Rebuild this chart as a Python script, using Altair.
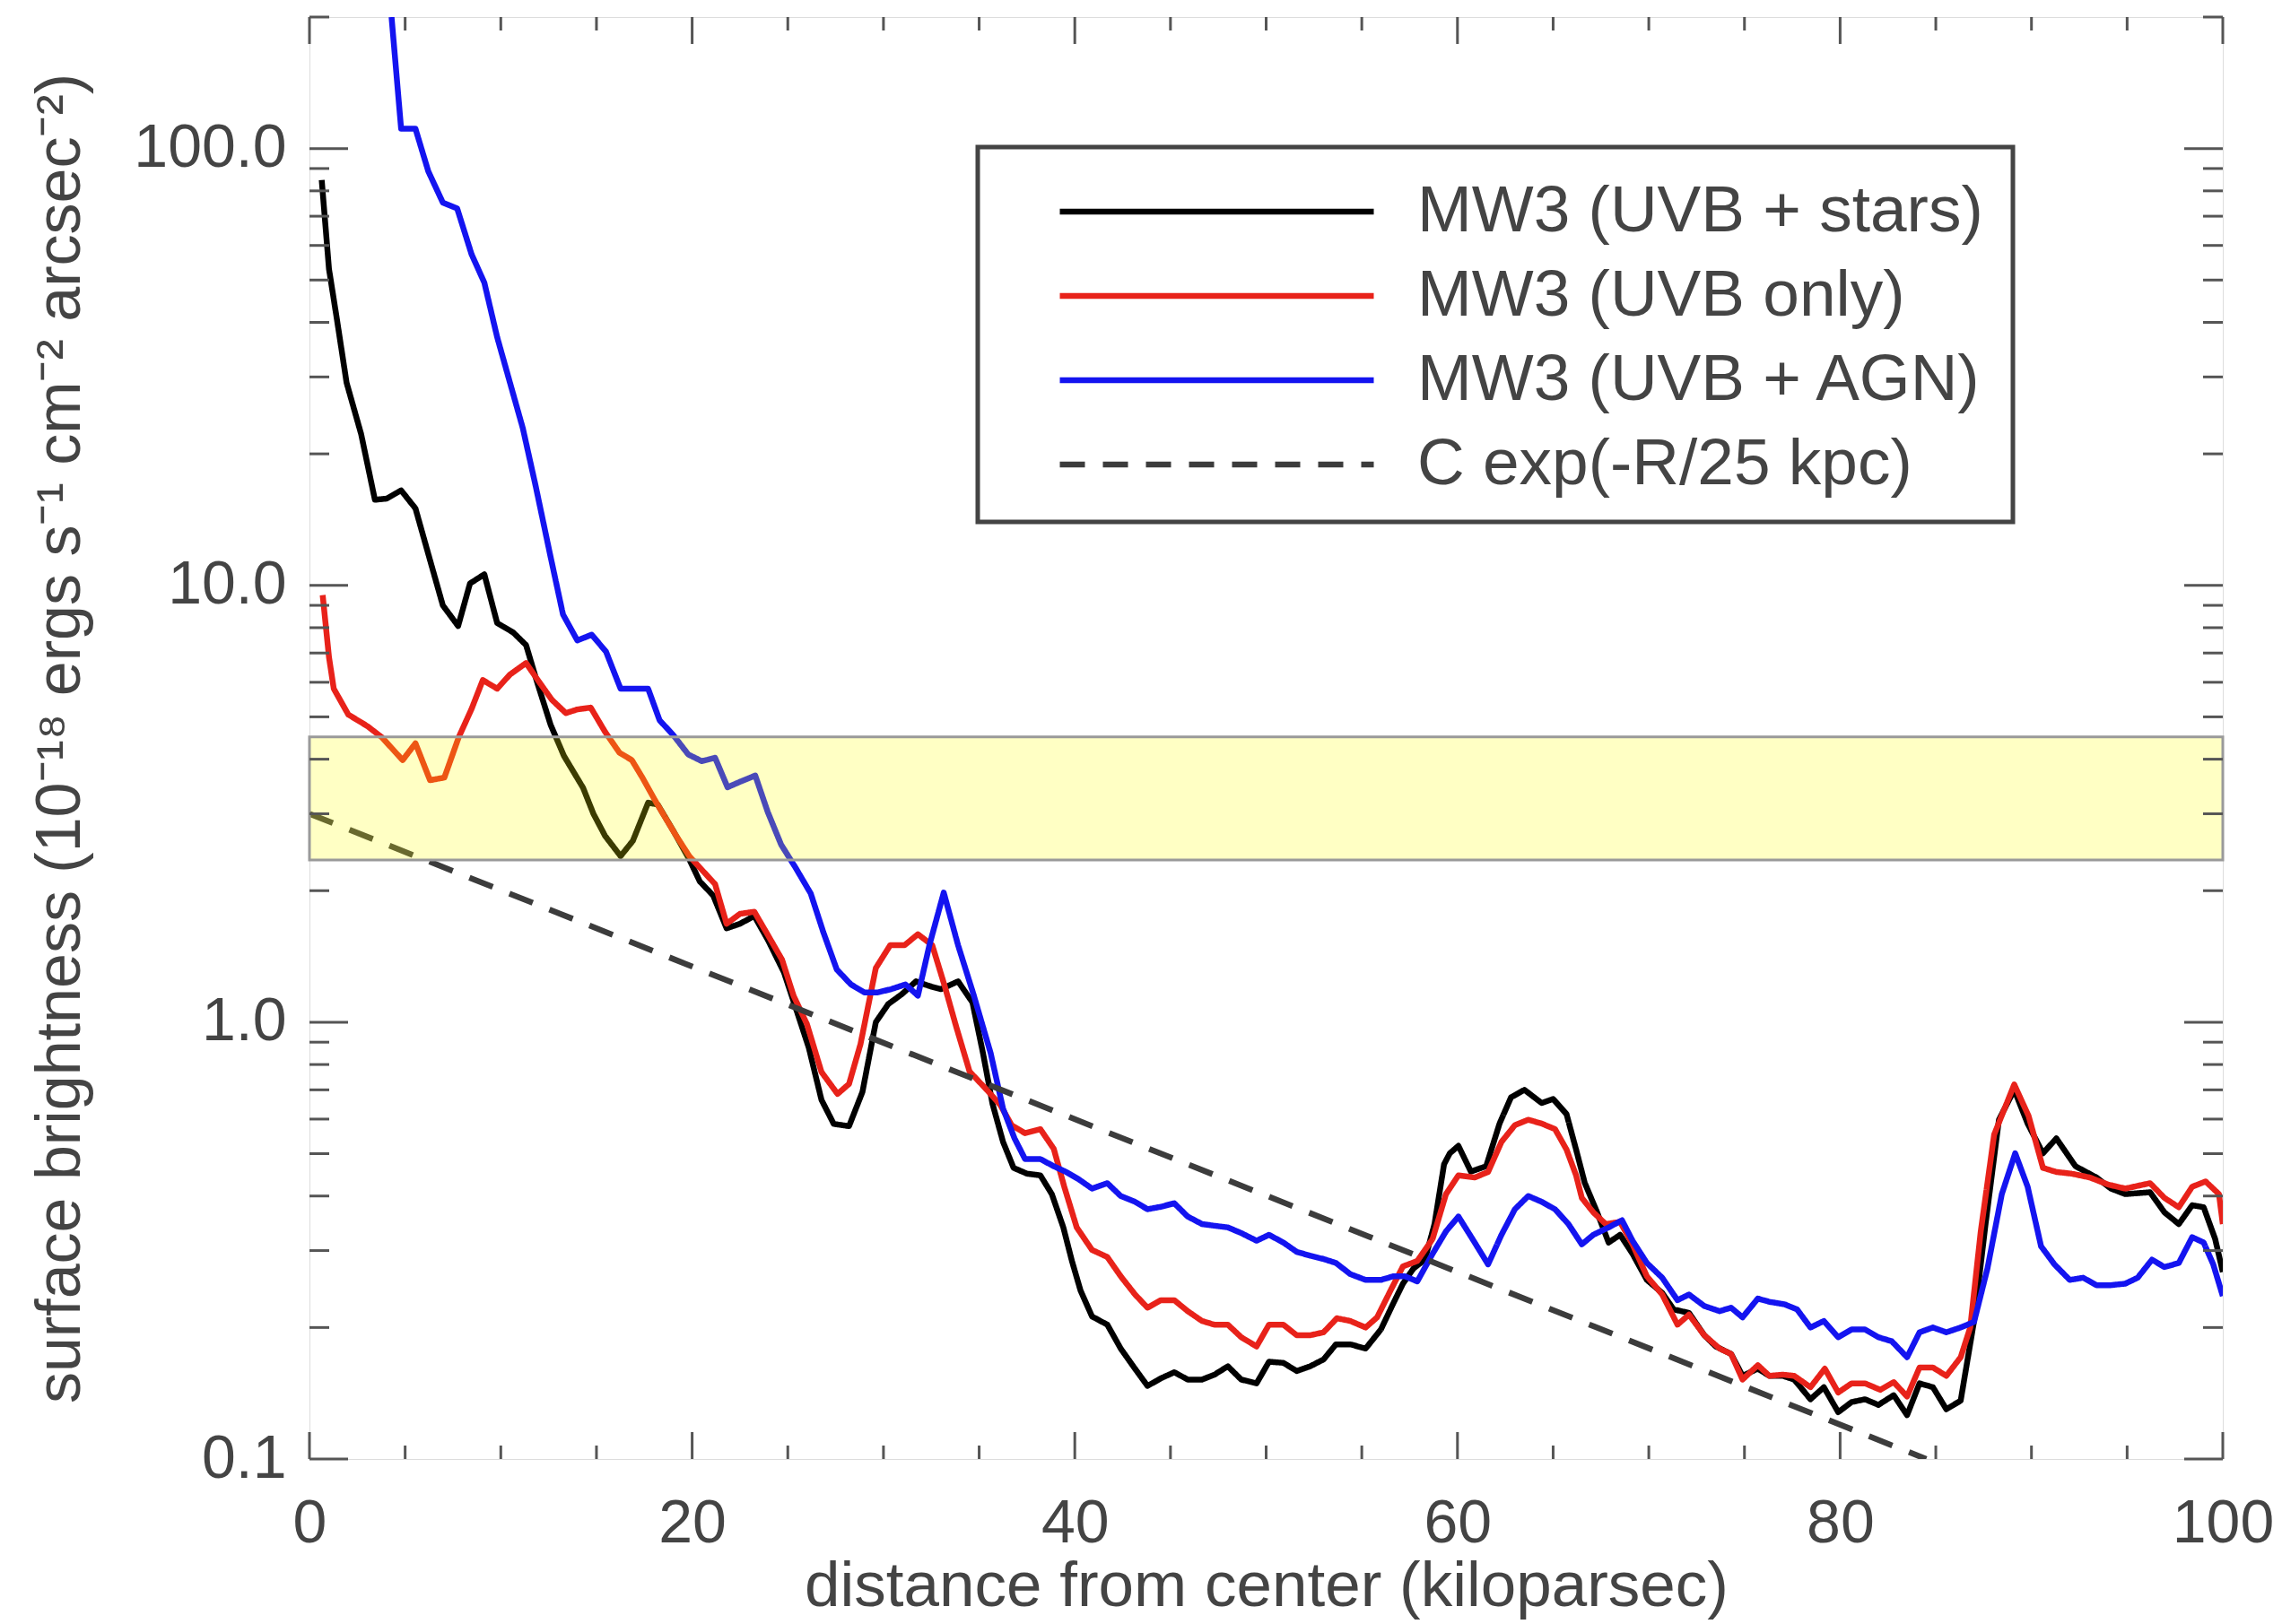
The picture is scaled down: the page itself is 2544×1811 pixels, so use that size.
import altair as alt
import pandas as pd

# ---------------- data ----------------
black_x = [0.64, 1.02, 1.44, 1.94, 2.70, 3.42, 4.04, 4.79, 5.54, 6.21,
           6.97, 7.77, 8.39, 9.14, 9.81, 10.65, 11.32, 11.9, 12.6, 13.3,
           14.3, 14.84, 15.45, 16.26, 16.9, 17.7, 18.2, 19.0, 19.85, 20.4,
           21.1, 21.8, 22.5, 23.25, 23.97, 24.8, 25.5, 26.1, 26.76, 27.4,
           28.2, 28.9, 29.6, 30.25, 30.97, 31.7, 32.4, 33.0, 33.9, 34.65,
           35.2, 35.7, 36.25, 36.8, 37.5, 38.2, 38.8, 39.4, 39.85, 40.3,
           40.9, 41.7, 42.4, 43.1, 43.8, 44.5, 45.2, 45.9, 46.65, 47.3,
           48.0, 48.7, 49.5, 50.15, 50.9, 51.6, 52.3, 53.0, 53.65, 54.4,
           55.2, 56.0, 56.6, 57.15, 57.7, 58.3, 58.8, 59.3, 59.6, 60.05,
           60.7, 61.5, 62.2, 62.8, 63.5, 64.4, 65.0, 65.7, 66.2, 66.65,
           67.3, 67.9, 68.5, 69.15, 69.9, 70.7, 71.3, 72.1, 72.9, 73.5,
           74.3, 74.9, 75.7, 76.3, 77.0, 77.6, 78.45, 79.15, 79.9, 80.6,
           81.3, 82.0, 82.8, 83.5, 84.15, 84.85, 85.55, 86.3, 87.0, 87.6,
           88.3, 89.1, 89.8, 90.6, 91.3, 92.3, 93.4, 94.15, 94.9, 96.2,
           96.95, 97.7, 98.4, 99.0, 99.6, 100.0]
black_y = [84.7, 53, 40.5, 29.1, 22.2, 15.7, 15.8, 16.5, 15.0, 11.8,
           9.0, 8.07, 10.1, 10.6, 8.2, 7.8, 7.3, 6.0, 4.8, 4.07,
           3.44, 3.0, 2.67, 2.40, 2.60, 3.18, 3.15, 2.75, 2.36, 2.1,
           1.95, 1.64, 1.68, 1.75, 1.54, 1.30, 1.05, 0.873, 0.664, 0.585,
           0.578, 0.692, 1.0, 1.10, 1.16, 1.24, 1.21, 1.19, 1.24, 1.11,
           0.85, 0.65, 0.532, 0.464, 0.45, 0.446, 0.404, 0.339, 0.284, 0.243,
           0.212, 0.203, 0.179, 0.162, 0.147, 0.153, 0.158, 0.152, 0.152, 0.156,
           0.163, 0.152, 0.149, 0.167, 0.166, 0.159, 0.163, 0.169, 0.183, 0.183,
           0.179, 0.198, 0.225, 0.252, 0.273, 0.286, 0.345, 0.473, 0.501, 0.521,
           0.455, 0.468, 0.586, 0.673, 0.70, 0.653, 0.667, 0.616, 0.511, 0.429,
           0.367, 0.313, 0.326, 0.295, 0.257, 0.24, 0.22, 0.216, 0.192, 0.181,
           0.174, 0.155, 0.161, 0.155, 0.155, 0.152, 0.137, 0.146, 0.128, 0.135,
           0.137, 0.133, 0.14, 0.126, 0.149, 0.146, 0.13, 0.136, 0.207, 0.345,
           0.598, 0.70, 0.586, 0.501, 0.542, 0.468, 0.441, 0.416, 0.404, 0.408,
           0.367, 0.345, 0.381, 0.377, 0.319, 0.268]

red_x = [0.69, 1.02, 1.27, 2.03, 3.03, 3.78, 4.87, 5.54, 6.30, 7.05,
         7.80, 8.47, 9.06, 9.81, 10.48, 11.32, 11.9, 12.67, 13.4, 14.0,
         14.7, 15.45, 16.2, 16.85, 17.4, 18.15, 19.1, 19.85, 20.6, 21.2,
         21.8, 22.5, 23.25, 23.97, 24.7, 25.3, 26.0, 26.76, 27.6, 28.2,
         28.8, 29.6, 30.35, 31.1, 31.8, 32.55, 33.2, 33.8, 34.5, 35.4,
         36.1, 36.7, 37.4, 38.2, 38.9, 39.45, 40.1, 40.9, 41.7, 42.4,
         43.15, 43.8, 44.5, 45.2, 45.9, 46.65, 47.3, 48.0, 48.7, 49.5,
         50.15, 50.9, 51.6, 52.3, 53.0, 53.7, 54.4, 55.2, 55.8, 56.5,
         57.15, 57.9, 58.7, 59.4, 60.05, 60.9, 61.6, 62.3, 63.0, 63.7,
         64.4, 65.1, 65.7, 66.2, 66.5, 67.1, 67.75, 68.5, 69.15, 69.9,
         70.7, 71.5, 72.1, 72.9, 73.7, 74.3, 74.9, 75.7, 76.3, 77.0,
         77.6, 78.45, 79.2, 79.9, 80.6, 81.3, 82.1, 82.8, 83.5, 84.15,
         84.85, 85.55, 86.3, 86.8, 87.35, 88.05, 89.1, 89.85, 90.6, 91.3,
         92.1, 93.05, 94.0, 94.9, 96.2, 96.95, 97.7, 98.4, 99.1, 99.8,
         100.0]
red_y = [9.5, 6.85, 5.8, 5.06, 4.76, 4.49, 3.98, 4.35, 3.58, 3.63,
         4.49, 5.21, 6.07, 5.8, 6.25, 6.64, 6.1, 5.47, 5.1, 5.2,
         5.25, 4.62, 4.14, 3.98, 3.63, 3.17, 2.7, 2.40, 2.21, 2.07,
         1.68, 1.77, 1.79, 1.58, 1.39, 1.15, 0.99, 0.769, 0.685, 0.722,
         0.891, 1.33, 1.50, 1.50, 1.59, 1.50, 1.21, 0.977, 0.771, 0.70,
         0.647, 0.581, 0.557, 0.569, 0.513, 0.42, 0.339, 0.301, 0.29, 0.262,
         0.238, 0.222, 0.231, 0.231, 0.218, 0.207, 0.203, 0.203, 0.19, 0.181,
         0.203, 0.203, 0.192, 0.192, 0.195, 0.21, 0.207, 0.20, 0.211, 0.243,
         0.276, 0.284, 0.319, 0.404, 0.446, 0.441, 0.454, 0.532, 0.581, 0.598,
         0.586, 0.569, 0.511, 0.446, 0.396, 0.367, 0.345, 0.349, 0.31, 0.262,
         0.238, 0.203, 0.214, 0.192, 0.179, 0.174, 0.152, 0.164, 0.155, 0.156,
         0.155, 0.146, 0.161, 0.142, 0.149, 0.149, 0.144, 0.15, 0.139, 0.162,
         0.162, 0.155, 0.171, 0.20, 0.332, 0.553, 0.72, 0.61, 0.464, 0.454,
         0.45, 0.441, 0.425, 0.416, 0.428, 0.396, 0.377, 0.42, 0.432, 0.404,
         0.345]

blue_x = [4.29, 4.79, 5.54, 6.21, 6.97, 7.72, 8.47, 9.14, 9.81, 10.48,
          11.15, 11.82, 12.57, 13.25, 14.0, 14.75, 15.5, 16.26, 17.0, 17.7,
          18.3, 19.0, 19.8, 20.5, 21.2, 21.85, 22.5, 23.3, 23.95, 24.65,
          25.4, 26.2, 26.85, 27.56, 28.3, 29.0, 29.7, 30.4, 31.15, 31.8,
          32.4, 33.15, 33.9, 34.7, 35.6, 36.25, 36.85, 37.4, 38.2, 38.9,
          39.55, 40.2, 40.9, 41.7, 42.4, 43.15, 43.8, 44.5, 45.2, 45.9,
          46.65, 47.3, 48.0, 48.7, 49.5, 50.15, 50.9, 51.6, 52.3, 53.0,
          53.65, 54.4, 55.2, 56.0, 56.65, 57.25, 57.9, 58.7, 59.4, 60.05,
          60.9, 61.6, 62.3, 63.0, 63.7, 64.4, 65.1, 65.8, 66.5, 67.1,
          67.9, 68.6, 69.15, 69.9, 70.7, 71.5, 72.1, 72.9, 73.7, 74.3,
          74.9, 75.7, 76.3, 77.1, 77.75, 78.45, 79.15, 79.9, 80.6, 81.3,
          82.0, 82.7, 83.5, 84.15, 84.85, 85.55, 86.3, 87.0, 87.7, 88.45,
          89.15, 89.8, 90.5, 91.2, 92.0, 92.7, 93.4, 94.15, 94.9, 95.55,
          96.3, 96.95, 97.7, 98.4, 99.0, 99.5, 100.0]
blue_y = [200, 111, 111, 88.7, 75.2, 72.9, 57.3, 49.3, 37, 29.1,
          22.9, 16.9, 11.8, 8.58, 7.48, 7.71, 7.05, 5.8, 5.8, 5.8,
          4.91, 4.55, 4.1, 3.96, 4.03, 3.45, 3.55, 3.67, 3.03, 2.55,
          2.26, 1.97, 1.61, 1.32, 1.22, 1.17, 1.17, 1.19, 1.22, 1.15,
          1.50, 1.98, 1.50, 1.16, 0.85, 0.634, 0.542, 0.486, 0.486, 0.468,
          0.454, 0.437, 0.416, 0.428, 0.40, 0.388, 0.373, 0.378, 0.385, 0.359,
          0.345, 0.342, 0.339, 0.329, 0.316, 0.326, 0.313, 0.298, 0.292, 0.287,
          0.281, 0.265, 0.257, 0.257, 0.262, 0.262, 0.255, 0.295, 0.332, 0.359,
          0.313, 0.279, 0.326, 0.373, 0.40, 0.388, 0.373, 0.345, 0.31, 0.326,
          0.339, 0.352, 0.316, 0.281, 0.26, 0.231, 0.238, 0.224, 0.218, 0.222,
          0.211, 0.233, 0.229, 0.226, 0.22, 0.20, 0.207, 0.19, 0.198, 0.198,
          0.19, 0.186, 0.171, 0.195, 0.20, 0.195, 0.20, 0.206, 0.273, 0.404,
          0.501, 0.42, 0.307, 0.279, 0.257, 0.26, 0.25, 0.25, 0.252, 0.26,
          0.286, 0.275, 0.281, 0.322, 0.313, 0.279, 0.236]

# dashed reference line: end points
model_x = [0.0, 84.5]
model_y = [3.0, 0.1]

# yellow band limits
band_lo = [2.35]
band_hi = [4.5]

series_names = ["MW3 (UVB + stars)", "MW3 (UVB only)", "MW3 (UVB + AGN)", "C exp(-R/25 kpc)"]
series_colors = ["#000000", "#E8221A", "#1414F0", "#3c3c3c"]
series_dash = [[1, 0], [1, 0], [1, 0], [28, 20]]

x_major = [0, 20, 40, 60, 80, 100]
x_minor = [5, 10, 15, 25, 30, 35, 45, 50, 55, 65, 70, 75, 85, 90, 95]
y_major = [0.1, 1.0, 10.0, 100.0]
y_minor = [0.2, 0.3, 0.4, 0.5, 0.6, 0.7, 0.8, 0.9,
           2, 3, 4, 5, 6, 7, 8, 9,
           20, 30, 40, 50, 60, 70, 80, 90, 200]

# ---------------- layout ----------------
W, H = 2133, 1608
FONT = "Liberation Sans"
TXT = "#444444"
FRAME = "#555555"
LW = 6.5
# legend box (pixels inside the plot area)
LEG_X, LEG_Y, LEG_X2, LEG_Y2 = 745, 145, 1899, 563

rows = []
for name, xs_, ys_ in zip(series_names,
                          [black_x, red_x, blue_x, model_x],
                          [black_y, red_y, blue_y, model_y]):
    for a, b in zip(xs_, ys_):
        rows.append({"x": a, "y": b, "series": name})
df = pd.DataFrame(rows)

xscale = alt.Scale(domain=[0, 100], nice=False, zero=False)
yscale = alt.Scale(type="log", domain=[0.1, 200], nice=False)

xaxis = alt.Axis(values=x_major, format="d", ticks=False, domain=False, grid=False,
                 labelPadding=38, labelFlush=False, labelOverlap=False,
                 labelFontSize=68, labelColor=TXT, labelFont=FONT,
                 title="distance from center (kiloparsec)",
                 titleFontSize=71, titleFontWeight="normal", titleColor=TXT, titleFont=FONT,
                 titleX=W / 2, titleY=163, titleBaseline="alphabetic", titleAlign="center")
yaxis = alt.Axis(values=y_major, format=".1f", ticks=False, domain=False, grid=False,
                 labelPadding=26, labelFlush=False, labelOverlap=False,
                 labelFontSize=68, labelColor=TXT, labelFont=FONT,
                 title="surface brightness (10⁻¹⁸ ergs s⁻¹ cm⁻² arcsec⁻²)",
                 titleFontSize=70, titleFontWeight="normal", titleColor=TXT, titleFont=FONT,
                 titleX=-257, titleY=H / 2, titleAngle=270, titleBaseline="alphabetic",
                 titleAlign="center")

legend = alt.Legend(orient="none", legendX=LEG_X, legendY=LEG_Y, title=None,
                    padding=37, symbolType="stroke", symbolSize=122500,
                    symbolStrokeWidth=LW, symbolOffset=51, labelOffset=45,
                    clipHeight=70, rowPadding=21, labelFontSize=73, labelFont=FONT,
                    labelColor=TXT, labelLimit=1500)

X = alt.X("x:Q", scale=xscale, axis=xaxis)
Y = alt.Y("y:Q", scale=yscale, axis=yaxis)

lines = alt.Chart(df).mark_line(clip=True, strokeWidth=LW, strokeJoin="round").encode(
    x=X, y=Y,
    color=alt.Color("series:N", scale=alt.Scale(domain=series_names, range=series_colors),
                    legend=legend),
    strokeDash=alt.StrokeDash("series:N", scale=alt.Scale(domain=series_names, range=series_dash),
                              legend=legend),
)

band = alt.Chart(pd.DataFrame({"lo": band_lo, "hi": band_hi})).mark_rect(
    fill="#FFFF00", fillOpacity=0.23, stroke="#9a9a9a", strokeWidth=3
).encode(
    x=alt.value(0), x2=alt.value(W),
    y=alt.Y("lo:Q", scale=yscale, axis=yaxis), y2="hi:Q",
)

# frame of the legend box (thick dark border, white inside)
legend_box = alt.Chart(pd.DataFrame({"k": [0]})).mark_rect(
    fill="white", stroke="#444444", strokeWidth=5
).encode(
    x=alt.value(LEG_X), x2=alt.value(LEG_X2),
    y=alt.value(LEG_Y), y2=alt.value(LEG_Y2),
)

def xticks(vals, length):
    d = pd.DataFrame({"x": vals})
    bottom = alt.Chart(d).mark_rule(color=FRAME, strokeWidth=3).encode(
        x=X, y=alt.value(H), y2=alt.value(H - length))
    top = alt.Chart(d).mark_rule(color=FRAME, strokeWidth=3).encode(
        x=X, y=alt.value(0), y2=alt.value(length))
    return [bottom, top]

def yticks(vals, length):
    d = pd.DataFrame({"y": vals})
    left = alt.Chart(d).mark_rule(color=FRAME, strokeWidth=3).encode(
        y=Y, x=alt.value(0), x2=alt.value(length))
    right = alt.Chart(d).mark_rule(color=FRAME, strokeWidth=3).encode(
        y=Y, x=alt.value(W - length), x2=alt.value(W))
    return [left, right]

layers = [lines, band, legend_box] + xticks(x_major, 30) + xticks(x_minor, 15) \
    + yticks(y_major, 43) + yticks(y_minor, 22)

chart = alt.layer(*layers).properties(
    width=W, height=H,
    autosize=alt.AutoSizeParams(type="none"),
    padding={"left": 345, "top": 19, "right": 66, "bottom": 184},
    background="white",
).configure_view(
    stroke=FRAME, strokeWidth=4
).configure(
    font=FONT
)

chart.save("out.html", embed_options={"renderer": "svg", "actions": False})
